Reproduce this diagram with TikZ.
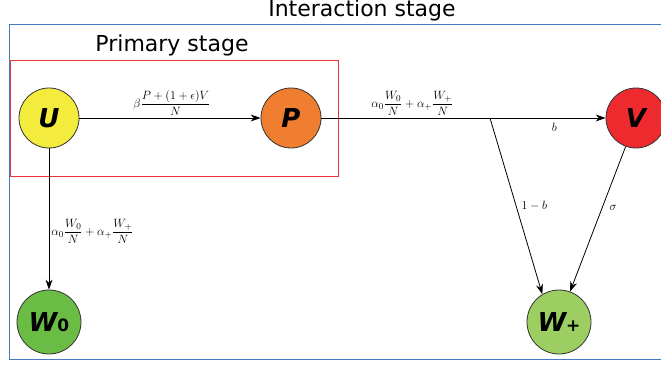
\documentclass[tikz,border=0pt]{standalone}
\usepackage{amsmath,amssymb}
\usepackage{fontspec}
\setsansfont{DejaVu Sans}
\usepackage{tikz}
\usetikzlibrary{arrows.meta,positioning,calc}
\usepackage{xcolor}
\definecolor{ucol}{HTML}{F4EC3C}
\definecolor{pcol}{HTML}{F07E30}
\definecolor{vcol}{HTML}{EE2A2F}
\definecolor{wzcol}{HTML}{6BBC45}
\definecolor{wpcol}{HTML}{9CCE62}
\definecolor{interact}{HTML}{4A78C0}
\definecolor{primary}{HTML}{E8343A}

\begin{document}
\begin{tikzpicture}[x=1pt,y=-1pt,
    compartment/.style={circle, draw=black!80, line width=0.8pt, minimum size=60pt, inner sep=0pt,
      font=\sffamily\bfseries\itshape\fontsize{26}{26}\selectfont},
    flow/.style={-{Stealth[length=10pt,width=7pt]}, line width=0.8pt},
    rate/.style={font=\fontsize{13}{13}\selectfont, inner sep=2pt}]
  \useasboundingbox (0,0) rectangle (661,369);
  \clip (0,0) rectangle (661,369);

  % stage frames
  \node[draw=interact, line width=1.2pt, minimum width=661pt, minimum height=335pt, anchor=north west,
        inner sep=0pt] (interbox) at (9,24) {};
  \node[draw=primary, line width=0.9pt, minimum width=328pt, minimum height=116pt, anchor=north west,
        inner sep=0pt] (primbox) at (10,60) {};
  \node[font=\sffamily\fontsize{22}{22}\selectfont] (intertitle) at (362,10) {Interaction stage};
  \node[font=\sffamily\fontsize{22}{22}\selectfont] (primtitle) at (172,45) {Primary stage};

  % compartments
  \node[compartment, fill=ucol] (u) at (49,118) {U};
  \node[compartment, fill=pcol] (p) at (291,118) {P};
  \node[compartment, fill=vcol] (v) at (636,118) {V};
  \node[compartment, fill=wzcol, minimum size=64pt] (w0) at (49,322)
    {W{\upshape\fontsize{17}{17}\selectfont 0}};
  \node[compartment, fill=wpcol, minimum size=64pt] (wp) at (559,322)
    {W{\upshape\fontsize{17}{17}\selectfont +}};
  \coordinate (split) at (490,118);

  % transitions
  \draw[flow] (u) -- node[rate, above, pos=0.51]
    {$\beta\dfrac{P+(1+\epsilon)V}{N}$} (p);
  \draw[flow] (p) -- node[rate, above, pos=0.32]
    {$\alpha_0\dfrac{W_0}{N}+\alpha_+\dfrac{W_+}{N}$}
    node[rate, below=3pt, pos=0.82] {$b$} (v);
  \draw[flow] (u) -- node[rate, right, pos=0.59]
    {$\alpha_0\dfrac{W_0}{N}+\alpha_+\dfrac{W_+}{N}$} (w0);
  \draw[flow] (split) -- node[rate, right=3pt, pos=0.5] {$1-b$} (wp.121);
  \draw[flow] (v.250) -- node[rate, right=5pt, pos=0.42] {$\sigma$} (wp.70);
\end{tikzpicture}
\end{document}
